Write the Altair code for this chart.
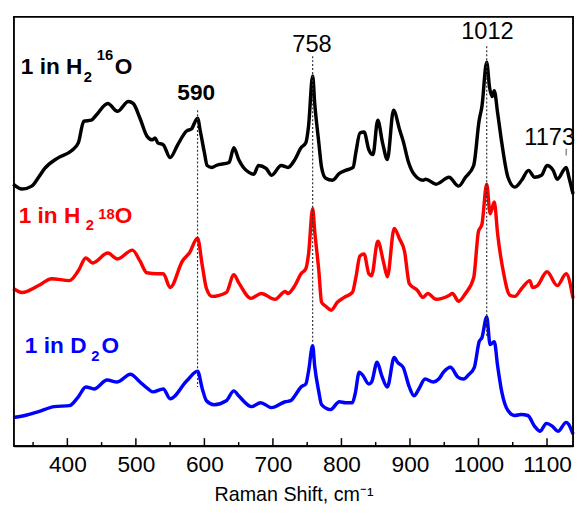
import altair as alt
import pandas as pd

# ---------------- data ----------------
series_names = ["1 in H2 16O", "1 in H2 18O", "1 in D2O"]
series_colors = ["#000000", "#ff0000", "#0000ff"]

wn_black = [321, 334, 348, 358, 367, 387, 406, 416, 424, 435, 442, 459, 473, 489, 496, 506, 516, 524, 528, 532,
            540, 550, 561, 574, 581, 590, 594, 600, 604, 611, 617, 636, 643, 650, 657, 665, 672, 679, 690, 698,
            712, 722, 732, 741, 748, 752, 758, 761, 767, 771, 777, 787, 797, 806, 817, 821, 827, 833, 840, 846,
            853, 860, 867, 876, 885, 890, 898, 906, 919, 923, 938, 957, 971, 981, 993, 1001, 1005, 1012, 1016, 1020,
            1023, 1028, 1034, 1043, 1053, 1063, 1073, 1082, 1092, 1100, 1109, 1115, 1128, 1132, 1138]
int_black = [266, 261, 264, 273, 282, 293, 300, 308, 330, 331, 336, 348, 340, 350, 348, 333, 315, 311, 313, 308,
             306, 293, 306, 320, 322, 333, 320, 298, 285, 283, 285, 288, 303, 291, 283, 278, 276, 285, 282, 275,
             285, 283, 291, 303, 308, 325, 376, 348, 308, 283, 272, 270, 277, 280, 283, 298, 318, 319, 301, 296,
             331, 308, 291, 341, 321, 310, 288, 276, 270, 271, 266, 273, 264, 273, 285, 331, 345, 390, 365, 355,
             361, 338, 308, 273, 263, 270, 280, 273, 275, 285, 280, 271, 283, 273, 256]

wn_red = [321, 334, 358, 377, 403, 416, 427, 437, 459, 473, 495, 506, 516, 531, 540, 550, 568, 578, 590, 597,
          603, 611, 632, 643, 650, 668, 683, 703, 718, 722, 732, 741, 748, 752, 758, 761, 767, 771, 777, 785,
          794, 804, 816, 821, 827, 833, 840, 844, 853, 862, 867, 877, 885, 892, 899, 911, 919, 926, 938, 957,
          962, 971, 981, 993, 1000, 1005, 1012, 1017, 1023, 1028, 1036, 1046, 1053, 1063, 1075, 1079, 1086, 1100,
          1115, 1128, 1138]
int_red = [160, 156, 163, 170, 168, 178, 191, 186, 196, 190, 199, 188, 176, 175, 175, 161, 188, 196, 211, 183,
           160, 152, 156, 174, 166, 150, 155, 149, 157, 155, 163, 175, 180, 195, 241, 218, 178, 146, 142, 138,
           146, 151, 156, 171, 193, 195, 175, 173, 208, 185, 172, 221, 210, 198, 165, 158, 151, 155, 149, 153,
           155, 147, 155, 171, 218, 225, 266, 236, 248, 215, 178, 153, 152, 160, 168, 161, 163, 177,
           163, 175, 150]

wn_blue = [321, 338, 358, 381, 403, 416, 427, 439, 458, 473, 492, 506, 516, 525, 540, 550, 574, 590, 597, 603,
           614, 632, 643, 650, 669, 682, 698, 718, 726, 732, 741, 748, 752, 758, 761, 767, 771, 784, 797, 806,
           816, 820, 826, 831, 840, 844, 852, 859, 867, 877, 882, 890, 899, 906, 913, 922, 934, 942, 949, 959,
           970, 978, 985, 994, 1001, 1005, 1012, 1017, 1023, 1028, 1034, 1043, 1053, 1062, 1072, 1082, 1090, 1099,
           1108, 1116, 1128, 1138]
int_blue = [29, 31, 35, 40, 41, 50, 60, 58, 67, 65, 73, 65, 59, 55, 58, 48, 66, 76, 58, 46,
            42, 46, 56, 51, 40, 44, 39, 45, 46, 51, 60, 63, 76, 102, 81, 55, 42, 37, 45, 44,
            44, 53, 75, 72, 63, 65, 85, 71, 60, 90, 85, 80, 60, 51, 58, 68, 65, 68, 75, 80,
            70, 68, 72, 80, 106, 110, 131, 103, 106, 81, 55, 36, 31, 32, 31, 20, 15, 23,
            20, 15, 24, 12]

major_ticks = [400, 500, 600, 700, 800, 900, 1000, 1100]
minor_ticks = [350, 450, 550, 650, 750, 850, 950, 1050]

peak_pos = [590, 758, 1012]
peak_top = [341, 396, 406]
peak_bottom = [60, 105, 110]

# ---------------- tables ----------------
rows = []
for name, xs, ys in [(series_names[0], wn_black, int_black),
                     (series_names[1], wn_red, int_red),
                     (series_names[2], wn_blue, int_blue)]:
    rows += [{"series": name, "wn": x, "inten": y} for x, y in zip(xs, ys)]
df = pd.DataFrame(rows)

ticks_df = pd.DataFrame(
    [{"pos": p, "ya": 0, "yb": 8} for p in major_ticks] +
    [{"pos": p, "ya": 0, "yb": 4} for p in minor_ticks]
)
dash_df = pd.DataFrame({"pos": peak_pos, "ya": peak_top, "yb": peak_bottom})
short_df = pd.DataFrame({"pos": [1128], "ya": [302], "yb": [295]})

# (colour, font size, x, y, text)
label_parts = [
    ("#000000", 23, 332, 378, "1 in H"),
    ("#000000", 15, 424, 370, "2"),
    ("#000000", 15, 443, 392, "16"),
    ("#000000", 23, 469, 378, "O"),
    ("#ff0000", 23, 329, 227, "1 in H"),
    ("#ff0000", 15, 427, 219, "2"),
    ("#ff0000", 15, 445, 231, "18"),
    ("#ff0000", 23, 469, 227, "O"),
    ("#0000ff", 23, 338, 95, "1 in D"),
    ("#0000ff", 15, 435, 86, "2"),
    ("#0000ff", 23, 450, 95, "O"),
]
peak_bold_df = pd.DataFrame([{"px": 588, "py": 351, "t": "590"}])
peak_text_df = pd.DataFrame([
    {"px": 757, "py": 400, "t": "758"},
    {"px": 1013, "py": 413, "t": "1012"},
    {"px": 1104, "py": 306, "t": "1173"},
])

# ---------------- chart ----------------
x_scale = alt.Scale(domain=[322, 1138], nice=False, zero=False)
y_scale = alt.Scale(domain=[0, 436], nice=False, zero=False)

x_axis = alt.Axis(values=major_ticks, ticks=False, grid=False, format="d",
                  title="Raman Shift, cm⁻¹", labelFontSize=23, titleFontSize=20,
                  labelPadding=8, titlePadding=8, labelColor="black", titleColor="black",
                  titleFontWeight="normal", domainColor="black", domainWidth=1.5,
                  labelFont="Liberation Sans", titleFont="Liberation Sans")

lines = alt.Chart(df).mark_line(strokeWidth=3.5, strokeJoin="round", interpolate="monotone").encode(
    x=alt.X("wn:Q", scale=x_scale, axis=x_axis),
    y=alt.Y("inten:Q", scale=y_scale, axis=None),
    color=alt.Color("series:N", scale=alt.Scale(domain=series_names, range=series_colors), legend=None),
)


def rule_layer(data, **mark):
    return alt.Chart(data).mark_rule(**mark).encode(
        x=alt.X("pos:Q", axis=x_axis),
        y=alt.Y("ya:Q", axis=None),
        y2=alt.Y2("yb"),
    )


tick_marks = rule_layer(ticks_df, color="black", strokeWidth=1.5)
dashes = rule_layer(dash_df, color="#333333", strokeWidth=1.2, strokeDash=[2, 2])
short_tick = rule_layer(short_df, color="#555555", strokeWidth=1)

# plot frame (box around the plotting area)
frame = alt.Chart(pd.DataFrame({"k": [0]})).mark_rect(
    filled=False, stroke="black", strokeWidth=1.5
).encode(
    x=alt.value(0), x2=alt.value(568), y=alt.value(0), y2=alt.value(436)
)


def text_layer(data, **mark):
    return alt.Chart(data).mark_text(baseline="alphabetic", font="Liberation Sans", **mark).encode(
        x=alt.X("px:Q", axis=x_axis),
        y=alt.Y("py:Q", axis=None),
        text=alt.Text("t:N"),
    )


label_layers = []
for col, fs, lx, ly, txt in label_parts:
    label_layers.append(
        text_layer(pd.DataFrame([{"px": lx, "py": ly, "t": txt}]),
                   align="left", fontWeight="bold", color=col, fontSize=fs)
    )

peak_bold = text_layer(peak_bold_df, align="center", fontWeight="bold", fontSize=23, color="black")
peak_labels = text_layer(peak_text_df, align="center", fontSize=24, color="black")

chart = alt.layer(
    lines, dashes, short_tick, tick_marks, frame, *label_layers, peak_bold, peak_labels
).properties(
    width=568, height=436,
    padding={"left": 3, "top": 4, "right": 0, "bottom": 0},
).configure_view(
    stroke="black", strokeWidth=1.5
)

chart.save("out.html", embed_options={"renderer": "svg", "actions": False})
